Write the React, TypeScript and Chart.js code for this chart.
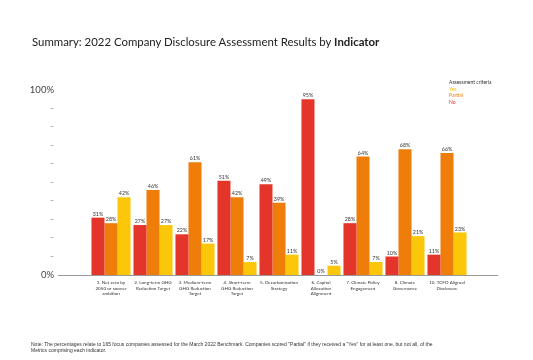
import React, { useEffect, useRef } from "react";
import { Chart, registerables } from "chart.js";

Chart.register(...registerables);

const categories: string[][] = [
  ["1. Net zero by", "2050 or sooner", "ambition"],
  ["2. Long-term GHG", "Reduction Target"],
  ["3. Medium-term", "GHG Reduction", "Target"],
  ["4. Short-term", "GHG Reduction", "Target"],
  ["5. Decarbonisation", "Strategy"],
  ["6. Capital", "Allocation", "Alignment"],
  ["7. Climate Policy", "Engagement"],
  ["8. Climate", "Governance"],
  ["10. TCFD Aligned", "Disclosure"],
];

const noValues = [31, 27, 22, 51, 49, 95, 28, 10, 11];
const partialValues = [28, 46, 61, 42, 39, 0, 64, 68, 66];
const yesValues = [42, 27, 17, 7, 11, 5, 7, 21, 23];

const RED = "#e4352a";
const ORANGE = "#ee7d0a";
const YELLOW = "#fcc70a";

const PLOT_LEFT = 90;
const PLOT_RIGHT = 468;
const PLOT_TOP = 90;
const PLOT_BOTTOM = 275;
const W = 533;
const H = 360;

const valueLabels = {
  id: "valueLabels",
  afterDatasetsDraw(chart: any) {
    const ctx = chart.ctx;
    ctx.save();
    ctx.font = "5.3px Lato";
    ctx.fillStyle = "#333";
    ctx.textAlign = "center";
    ctx.textBaseline = "bottom";
    chart.data.datasets.forEach((ds: any, i: number) => {
      const meta = chart.getDatasetMeta(i);
      meta.data.forEach((el: any, j: number) => {
        ctx.fillText(ds.data[j] + "%", el.x, el.y - 1);
      });
    });
    ctx.restore();
  },
};

const baseline = {
  id: "baseline",
  afterDraw(chart: any) {
    const ctx = chart.ctx;
    const y = chart.scales.y.getPixelForValue(0);
    ctx.save();
    ctx.strokeStyle = "#9a9a9a";
    ctx.lineWidth = 1;
    ctx.beginPath();
    ctx.moveTo(58, y + 0.5);
    ctx.lineTo(498, y + 0.5);
    ctx.stroke();
    ctx.restore();
  },
};

export default function App() {
  const ref = useRef<HTMLCanvasElement>(null);
  useEffect(() => {
    if (!ref.current) return;
    const chart = new Chart(ref.current, {
      type: "bar",
      data: {
        labels: categories as any,
        datasets: [
          { label: "No", data: noValues, backgroundColor: RED },
          { label: "Partial", data: partialValues, backgroundColor: ORANGE },
          { label: "Yes", data: yesValues, backgroundColor: YELLOW },
        ],
      },
      options: {
        animation: false,
        responsive: false,
        maintainAspectRatio: false,
        datasets: { bar: { categoryPercentage: 0.93, barPercentage: 1.0 } },
        layout: {
          padding: { top: PLOT_TOP, right: W - PLOT_RIGHT, bottom: 40, left: 0 },
        },
        plugins: {
          legend: { display: false },
          tooltip: { enabled: false },
          title: { display: false },
        },
        scales: {
          x: {
            grid: { display: false, drawTicks: false },
            border: { display: false },
            ticks: {
              color: "#333",
              font: { size: 4.6, family: "Lato" },
              padding: 5,
              maxRotation: 0,
              autoSkip: false,
            },
            afterFit(scale: any) {
              scale.height = H - 40 - PLOT_BOTTOM;
            },
          },
          y: {
            min: 0,
            max: 100,
            grid: { display: false, drawTicks: false },
            border: { display: false },
            ticks: {
              stepSize: 10,
              padding: PLOT_LEFT - 54,
              callback: (v: any) => (v === 100 ? "100%" : v === 0 ? "0%" : "–"),
              color: (c: any) =>
                c.tick && (c.tick.value === 0 || c.tick.value === 100) ? "#444" : "#777",
              font: (c: any) =>
                c.tick && (c.tick.value === 0 || c.tick.value === 100)
                  ? { size: 9.5, family: "Lato" }
                  : { size: 7.5, family: "Lato" },
            },
            afterFit(scale: any) {
              scale.width = PLOT_LEFT;
            },
          },
        },
      },
      plugins: [valueLabels, baseline],
    });
    return () => chart.destroy();
  }, []);

  return (
    <div
      style={{
        position: "fixed",
        left: 0,
        top: 0,
        width: W,
        height: H,
        background: "#fff",
        overflow: "hidden",
      }}
    >
      <canvas
        ref={ref}
        width={W}
        height={H}
        style={{ position: "absolute", left: 0, top: 0, width: W, height: H }}
      />
      <div
        style={{
          position: "absolute",
          left: 32,
          top: 35,
          fontFamily: "Lato",
          fontSize: 11.4,
          color: "#222",
          whiteSpace: "nowrap",
        }}
      >
        Summary: 2022 Company Disclosure Assessment Results by <b>Indicator</b>
      </div>
      <div
        style={{
          position: "absolute",
          left: 449,
          top: 79,
          fontFamily: "Lato",
          fontSize: 5,
          lineHeight: "6.7px",
          whiteSpace: "nowrap",
        }}
      >
        <div style={{ color: "#333" }}>Assessment criteria</div>
        <div style={{ color: YELLOW }}>Yes</div>
        <div style={{ color: ORANGE }}>Partial</div>
        <div style={{ color: RED }}>No</div>
      </div>
      <div
        style={{
          position: "absolute",
          left: 31,
          top: 341,
          fontFamily: "Liberation Sans",
          fontSize: 5,
          lineHeight: "6px",
          color: "#333",
          whiteSpace: "nowrap",
        }}
      >
        Note: The percentages relate to 165 focus companies assessed for the March 2022 Benchmark. Companies scored "Partial" if they received a "Yes" for at least one, but not all, of the
        <br />
        Metrics comprising each indicator.
      </div>
    </div>
  );
}
